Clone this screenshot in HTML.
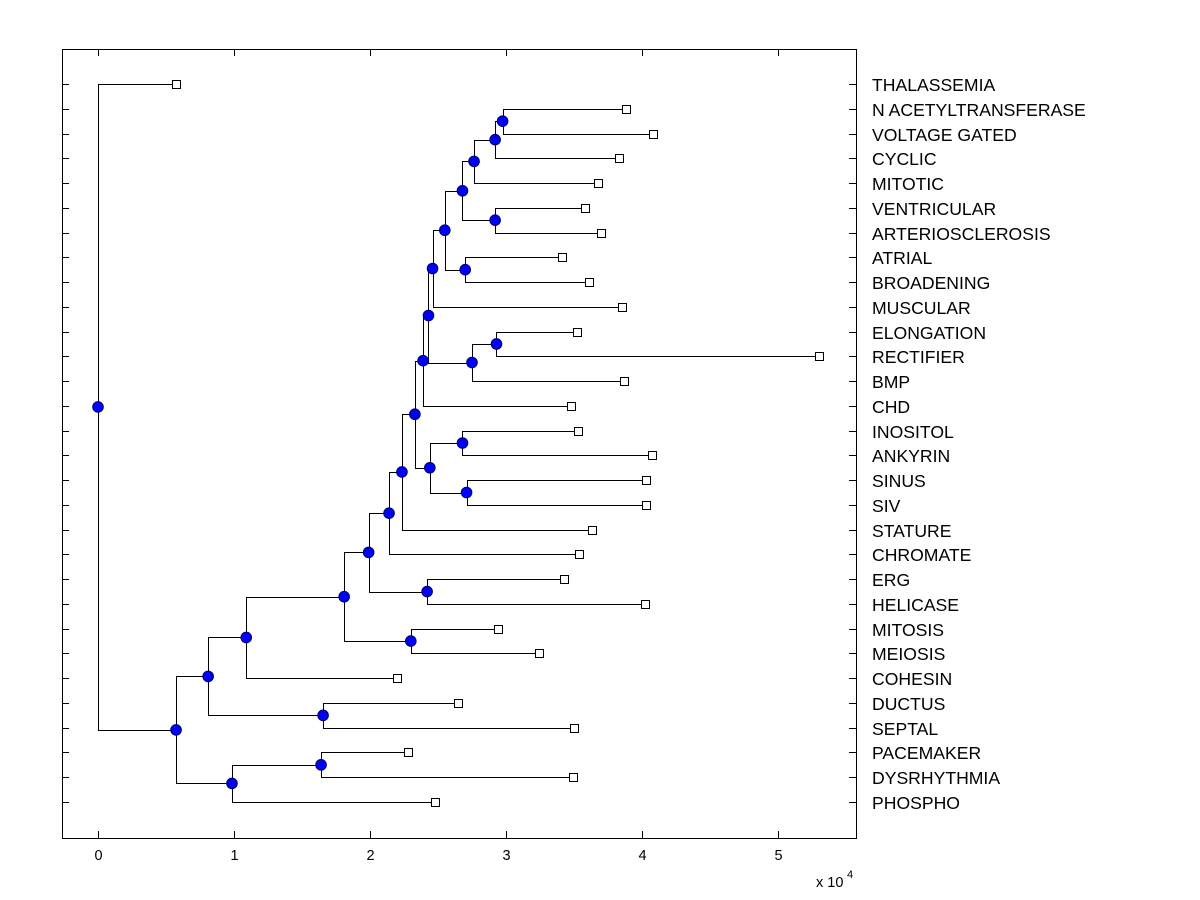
<!DOCTYPE html>
<html><head><meta charset="utf-8"><style>
body{margin:0;background:#fff;}
svg{display:block;font-family:"Liberation Sans",Arial,sans-serif;}
</style></head><body>
<svg id="chart" width="1200" height="900"></svg>
<script>
const leafNames=["THALASSEMIA","N ACETYLTRANSFERASE","VOLTAGE GATED","CYCLIC","MITOTIC","VENTRICULAR","ARTERIOSCLEROSIS","ATRIAL","BROADENING","MUSCULAR","ELONGATION","RECTIFIER","BMP","CHD","INOSITOL","ANKYRIN","SINUS","SIV","STATURE","CHROMATE","ERG","HELICASE","MITOSIS","MEIOSIS","COHESIN","DUCTUS","SEPTAL","PACEMAKER","DYSRHYTHMIA","PHOSPHO"];
const leafDist=[0.574,3.88,4.08,3.83,3.68,3.58,3.70,3.41,3.61,3.85,3.52,5.30,3.87,3.48,3.53,4.07,4.03,4.03,3.63,3.54,3.43,4.02,2.94,3.24,2.20,2.65,3.50,2.28,3.49,2.48];
const nodeNames=["AB","AA","Y","Z","W","X","V","S","U","T","R","N","P","Q","O","M","L","J","K","H","I","G","E","F","B","D","C","A","root"];
const nodeDist=[2.975,2.92,2.765,2.92,2.68,2.70,2.55,2.46,2.93,2.75,2.43,2.39,2.68,2.71,2.44,2.33,2.235,2.14,2.42,1.99,2.30,1.81,1.09,1.655,0.81,1.64,0.985,0.574,0];
const nodeKids=[["N ACETYLTRANSFERASE","VOLTAGE GATED"],["AB","CYCLIC"],["AA","MITOTIC"],["VENTRICULAR","ARTERIOSCLEROSIS"],["Y","Z"],["ATRIAL","BROADENING"],["W","X"],["V","MUSCULAR"],["ELONGATION","RECTIFIER"],["U","BMP"],["S","T"],["R","CHD"],["INOSITOL","ANKYRIN"],["SINUS","SIV"],["P","Q"],["N","O"],["M","STATURE"],["L","CHROMATE"],["ERG","HELICASE"],["J","K"],["MITOSIS","MEIOSIS"],["H","I"],["G","COHESIN"],["DUCTUS","SEPTAL"],["E","F"],["PACEMAKER","DYSRHYTHMIA"],["D","PHOSPHO"],["B","C"],["THALASSEMIA","A"]];
const xTicks=[0,1,2,3,4,5];

const NS="http://www.w3.org/2000/svg";
const svg=document.getElementById('chart');
const L=62,R=856,T=49,B=838;
const xS=v=>98+v*136;
const yS=i=>84+i*(802-84)/29;
function mk(tag,attrs,parent){const e=document.createElementNS(NS,tag);for(const k in attrs)e.setAttribute(k,attrs[k]);(parent||svg).appendChild(e);return e;}

const box=mk('rect',{x:L+0.5,y:T+0.5,width:R-L,height:B-T,fill:'none',stroke:'#000','stroke-width':1});



xTicks.forEach(t=>{
  const x=Math.round(xS(t))+0.5;
  mk('line',{x1:x,y1:B,x2:x,y2:B-7,stroke:'#000'});
  mk('line',{x1:x,y1:T,x2:x,y2:T+7,stroke:'#000'});
  const tx=mk('text',{x:x,y:860,'text-anchor':'middle','font-size':14.5});
  tx.textContent=t;
  
  
});
const ex=mk('text',{x:816,y:887,'font-size':14.5});
ex.textContent='x 10';


const ex2=mk('text',{x:847,y:878,'font-size':11});
ex2.textContent='4';



const pos={};
leafNames.forEach((n,i)=>{pos[n]={x:leafDist[i],y:yS(i)};
  const y=Math.round(yS(i))+0.5;
  mk('line',{x1:L,y1:y,x2:L+7,y2:y,stroke:'#000'});
  mk('line',{x1:R,y1:y,x2:R-7,y2:y,stroke:'#000'});
  const t=mk('text',{x:872,y:y+6.5,'font-size':17.6});
  t.textContent=n;
  
  
});
nodeNames.forEach((n,i)=>{const a=pos[nodeKids[i][0]],b=pos[nodeKids[i][1]];pos[n]={x:nodeDist[i],y:(a.y+b.y)/2};});

const gEdges=mk('g',{stroke:'#000','stroke-width':1,fill:'none'});


nodeNames.forEach((n,i)=>{
  const p=pos[n],px=Math.round(xS(p.x))+0.5;
  nodeKids[i].forEach(k=>{const c=pos[k];const cy=Math.round(c.y)+0.5;
    mk('polyline',{points:`${px},${Math.round(p.y)+0.5} ${px},${cy} ${Math.round(xS(c.x))+0.5},${cy}`},gEdges);});
});
leafNames.forEach(n=>{const p=pos[n];
  const r=mk('rect',{x:Math.round(xS(p.x))-3.5,y:Math.round(p.y)-3.5,width:8,height:8,fill:'#fff',stroke:'#000'});
  
  
});
nodeNames.forEach(n=>{const p=pos[n];
  const c=mk('circle',{cx:xS(p.x),cy:p.y,r:5.3,fill:'#0000ff',stroke:'#000060','stroke-width':1});
  
  
});
</script>
</body></html>
